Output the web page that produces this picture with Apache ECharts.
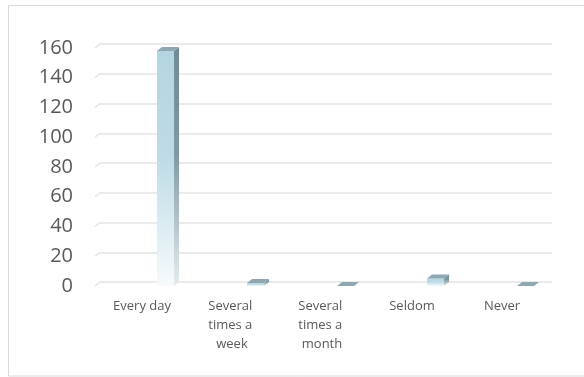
<!DOCTYPE html>
<html><head><meta charset="utf-8">
<script src="https://cdn.jsdelivr.net/npm/echarts@6/dist/echarts.min.js"></script>
<style>html,body{margin:0;padding:0;background:#fff}#c{width:584px;height:377px}</style>
</head><body><div id="c"></div>
<script>
const categories = ['Every day', 'Several times a week', 'Several times a month', 'Seldom', 'Never'];
const values = [158, 2, 0, 5, 0];
const yTicks = [0, 20, 40, 60, 80, 100, 120, 140, 160];

const DX = 5, DY = 4;
const chart = echarts.init(document.getElementById('c'), null, { renderer: 'canvas' });

function frontGrad() {
  return new echarts.graphic.LinearGradient(0, 0, 0, 1, [
    { offset: 0, color: '#b3d5e1' },
    { offset: 0.45, color: '#bddbe6' },
    { offset: 1, color: '#f6fafc' }
  ]);
}
function sideGrad() {
  return new echarts.graphic.LinearGradient(0, 0, 0, 1, [
    { offset: 0, color: '#6f8b95' },
    { offset: 0.45, color: '#7f99a2' },
    { offset: 1, color: '#e6ecee' }
  ]);
}

function renderBar(params, api) {
  const idx = api.value(0), v = api.value(1);
  const band = api.size([1, 0])[0];
  const c = api.coord([idx, v]);
  const b = api.coord([idx, 0]);
  const x0 = c[0] + band * 0.167, x1 = c[0] + band * 0.356;
  const yt = c[1], yb = b[1];
  const children = [];
  if (yb - yt > 0.5) {
    children.push({ type: 'rect', shape: { x: x0, y: yt, width: x1 - x0, height: yb - yt }, style: { fill: frontGrad() } });
    children.push({ type: 'polygon', shape: { points: [[x1, yt], [x1 + DX, yt - DY], [x1 + DX, yb - DY], [x1, yb]] }, style: { fill: sideGrad() } });
  }
  children.push({ type: 'polygon', shape: { points: [[x0, yt], [x0 + DX, yt - DY], [x1 + DX, yt - DY], [x1, yt]] }, style: { fill: '#8ea7b1' } });
  return { type: 'group', children };
}

function renderStub(params, api) {
  const v = api.value(1);
  const band = api.size([1, 0])[0];
  const c = api.coord([0, v]);
  const left = c[0] - band / 2;
  return { type: 'line', shape: { x1: left - 2, y1: c[1], x2: left + 3, y2: c[1] - DY }, style: { stroke: '#e4e4e4', lineWidth: 1.5 } };
}

const option = {
  animation: false,
  backgroundColor: '#ffffff',
  graphic: [{ type: 'rect', shape: { x: 8.5, y: 5.5, width: 620, height: 370.5 }, style: { fill: 'none', stroke: '#d9d9d9', lineWidth: 1 }, silent: true, z: -10 }],
  grid: [
    { left: 97, right: 37, top: 48, bottom: 91 },
    { left: 100, right: 32, top: 44, bottom: 95 }
  ],
  xAxis: [
    {
      type: 'category', data: categories, gridIndex: 0,
      axisLine: { show: false }, axisTick: { show: false },
      axisLabel: { color: '#595959', fontSize: 13, lineHeight: 19, fontFamily: 'Open Sans', width: 66, overflow: 'break', margin: 11, interval: 0 }
    },
    { type: 'category', data: categories, gridIndex: 1, show: false }
  ],
  yAxis: [
    {
      type: 'value', gridIndex: 0, min: 0, max: 160, interval: 20,
      splitLine: { show: false }, axisLine: { show: false }, axisTick: { show: false },
      axisLabel: { color: '#595959', fontSize: 20, fontFamily: 'Open Sans', margin: 24 }
    },
    {
      type: 'value', gridIndex: 1, min: 0, max: 160, interval: 20,
      axisLabel: { show: false }, axisLine: { show: false }, axisTick: { show: false },
      splitLine: { show: true, lineStyle: { color: '#e4e4e4', width: 1.5 } }
    }
  ],
  series: [
    {
      type: 'custom', xAxisIndex: 0, yAxisIndex: 0, renderItem: renderStub,
      data: yTicks.map(v => [0, v]), silent: true, z: 1
    },
    {
      type: 'custom', xAxisIndex: 0, yAxisIndex: 0, renderItem: renderBar,
      data: values.map((v, i) => [i, v]), z: 5
    }
  ]
};
chart.setOption(option);
</script>
</body></html>
